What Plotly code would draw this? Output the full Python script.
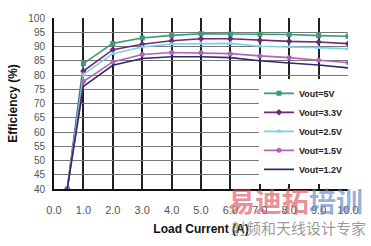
import plotly.graph_objects as go

load_current = [0.45, 1.0, 2.0, 3.0, 4.0, 5.0, 6.0, 7.0, 8.0, 9.0, 10.0]
eff_5v0 = [40, 84.0, 91.1, 93.0, 93.9, 94.5, 94.4, 94.3, 94.2, 93.8, 93.6]
eff_3v3 = [40, 81.4, 88.9, 90.8, 92.0, 92.7, 92.7, 92.2, 91.8, 91.6, 91.0]
eff_2v5 = [40, 80.2, 87.5, 89.8, 90.9, 91.1, 91.1, 90.1, 89.9, 89.6, 89.2]
eff_1v5 = [40, 77.7, 84.6, 87.2, 87.9, 87.8, 87.5, 86.7, 86.1, 85.2, 84.4]
eff_1v2 = [40, 76.0, 83.4, 85.8, 86.4, 86.4, 86.1, 85.0, 84.2, 83.5, 82.5]

series_names = ["Vout=5V", "Vout=3.3V", "Vout=2.5V", "Vout=1.5V", "Vout=1.2V"]
x_ticks = [0, 1, 2, 3, 4, 5, 6, 7, 8, 9, 10]
x_tick_text = ["0.0", "1.0", "2.0", "3.0", "4.0", "5.0", "6.0", "7.0", "8.0", "9.0", "10.0"]
y_ticks = [40, 45, 50, 55, 60, 65, 70, 75, 80, 85, 90, 95, 100]

colors = ["#3a9a78", "#6b2a7a", "#7fd0e0", "#b066b8", "#2b2d6e"]
symbols = ["square", "diamond", "triangle-up", "circle", None]
all_data = [eff_5v0, eff_3v3, eff_2v5, eff_1v5, eff_1v2]

fig = go.Figure()
for name, ys, c, s in zip(series_names, all_data, colors, symbols):
    if s is None:
        fig.add_trace(go.Scatter(x=load_current, y=ys, name=name, mode="lines",
                                 line=dict(color=c, width=1.6)))
    else:
        fig.add_trace(go.Scatter(x=load_current, y=ys, name=name, mode="lines+markers",
                                 line=dict(color=c, width=1.6),
                                 marker=dict(symbol=s, size=5, color=c)))

font_family = "Liberation Sans, Arial, sans-serif"

fig.update_layout(
    width=371, height=246,
    margin=dict(l=52, r=19, t=13, b=55),
    paper_bgcolor="white", plot_bgcolor="white",
    font=dict(family=font_family, color="#444"),
    showlegend=True,
    legend=dict(x=1.0, xanchor="right", y=0.03, yanchor="bottom",
                bgcolor="white", borderwidth=0,
                font=dict(size=9, color="#222", family=font_family, weight="bold"),
                tracegroupgap=0, itemwidth=30),
    xaxis=dict(range=[0, 10], tickvals=x_ticks, ticktext=x_tick_text,
               showgrid=True, gridcolor="#222", gridwidth=1.5,
               showline=True, linecolor="#111", linewidth=2,
               zeroline=False, ticks="", ticklabelstandoff=10,
               tickfont=dict(size=11, color="#555"),
               title=dict(text="<b>Load Current (A)</b>", font=dict(size=12, color="#111"), standoff=9)),
    yaxis=dict(range=[40, 100], tickvals=y_ticks,
               showgrid=True, gridcolor="#777", gridwidth=1.2,
               showline=True, linecolor="#111", linewidth=2,
               zeroline=False, ticks="", ticklabelstandoff=5,
               tickfont=dict(size=10, color="#555"),
               title=dict(text="<b>Efficiency (%)</b>", font=dict(size=12, color="#111"), standoff=8)),
)

# watermark present in the reference image
fig.add_annotation(xref="paper", yref="paper", x=0.82, y=-0.07, xanchor="center", yanchor="middle",
                   text="<span style='color:rgba(220,80,90,0.65)'>易迪拓</span><span style='color:rgba(90,130,200,0.65)'>培训</span>",
                   showarrow=False, font=dict(size=27, family="Noto Sans CJK SC", weight="bold"))
fig.add_annotation(xref="paper", yref="paper", x=0.83, y=-0.225, xanchor="center", yanchor="middle",
                   text="射频和天线设计专家", showarrow=False,
                   font=dict(size=15, family="Noto Sans CJK SC", color="rgba(120,120,120,0.75)"))

fig.write_html("out.html")
